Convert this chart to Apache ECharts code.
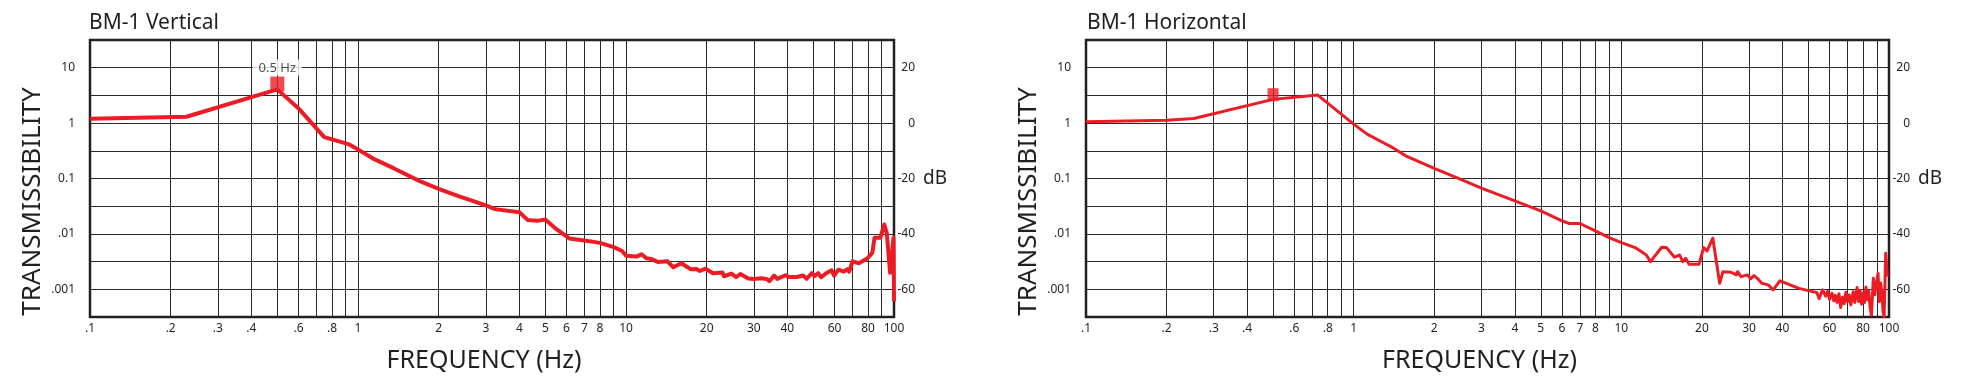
<!DOCTYPE html>
<html><head><meta charset="utf-8">
<script src="https://cdn.jsdelivr.net/npm/echarts@6/dist/echarts.min.js"></script>
<style>html,body{margin:0;padding:0;background:#fff}#c{width:1964px;height:392px}</style>
</head><body><div id="c"></div>
<script>
const chartTitles = ['BM-1 Vertical', 'BM-1 Horizontal'];

const vertFreq = [0.1, 0.229, 0.5, 0.6, 0.748, 0.928, 1.0, 1.155, 1.363, 1.70, 2.0, 2.37, 3.0, 3.25, 4.0, 4.29, 4.66, 5.0, 5.42, 6.14, 7.0, 8.0, 9.0, 9.67,
  10, 10.96, 11.43, 11.92, 12.4, 13.13, 14.27, 15.01, 16.08, 17.44, 18.3, 18.85, 19.8, 21.1, 22.9, 23.2, 24.75, 25.75, 26.7, 28.6, 30, 32, 33.4, 34.3, 35.7, 36.7,
  39.4, 40.5, 43.4, 45.8, 47.2, 49.3, 50.6, 52.1, 53.5, 55.8, 58.5, 59.8, 62.0, 64.9, 66.9, 68.0, 70, 74.0, 79.6, 83.0, 84.6, 88.9, 92.0, 94.0, 96.7, 99.6, 100];
const vertTrans = [1.2, 1.30, 4.06, 1.84, 0.558, 0.412, 0.335, 0.221, 0.152, 0.0895, 0.0651, 0.0481, 0.0327, 0.028, 0.0247, 0.0179, 0.0172, 0.0182, 0.0129, 0.00828, 0.0076, 0.00689, 0.00576, 0.0049,
  0.00405, 0.00389, 0.0043, 0.00363, 0.00353, 0.00312, 0.00321, 0.0025, 0.00295, 0.0023, 0.00233, 0.00214, 0.00236, 0.00195, 0.002, 0.00172, 0.00192, 0.00165, 0.00189, 0.00156, 0.00154, 0.00158, 0.00154, 0.0014, 0.00177, 0.00154,
  0.00179, 0.00167, 0.00167, 0.00177, 0.00154, 0.00195, 0.00174, 0.00195, 0.00165, 0.00195, 0.0022, 0.00177, 0.00226, 0.00208, 0.0023, 0.00208, 0.0032, 0.00295, 0.00363, 0.00454, 0.0085, 0.0085, 0.0148, 0.0103, 0.00198, 0.0085, 0.00061];

const horizFreq = [0.1, 0.2, 0.253, 0.5, 0.734, 1.0, 1.123, 1.26, 1.40, 1.564, 2.0, 2.5, 3.0, 4.0, 5.0, 6.0, 6.39, 7.0, 8.0, 9.0, 10, 11.26, 12.4, 12.84,
  14.16, 14.75, 15.8, 16.5, 16.97, 17.4, 17.9, 19.5, 20.3, 20.9, 21.97, 23.3, 23.97, 25.7, 26.9, 27.2, 28.0, 29.6, 30.4, 31.3, 32.4, 33.5, 35.4, 36.9, 39.1, 46.1, 53.8, 54.8,
  56.5, 58, 59, 60, 61.2, 62.2, 63, 64, 65, 66, 67, 68, 69, 70, 71, 72, 73.5, 74.5, 76, 77, 78, 79, 80, 81, 82, 83, 84, 85, 86, 87.4, 88.5, 89.5, 91, 92, 93, 94, 95, 95.9, 97.2, 98.5];
const horizTrans = [1.06, 1.12, 1.21, 2.68, 3.2, 0.96, 0.633, 0.47, 0.36, 0.257, 0.152, 0.0973, 0.0669, 0.0395, 0.026, 0.0172, 0.0154, 0.0154, 0.0113, 0.0086, 0.00697, 0.00566, 0.00417, 0.00316,
  0.00574, 0.00566, 0.00379, 0.00417, 0.00316, 0.00363, 0.00283, 0.00283, 0.00566, 0.00493, 0.00835, 0.00128, 0.00208, 0.00203, 0.00182, 0.00208, 0.00169, 0.00182, 0.00154, 0.00177, 0.00154, 0.00128, 0.0012, 0.000973, 0.00142, 0.00104, 0.00087, 0.00068,
  0.00098, 0.00075, 0.00092, 0.00066, 0.00085, 0.00062, 0.00078, 0.00058, 0.00083, 0.00047, 0.00072, 0.00055, 0.00088, 0.0006, 0.00079, 0.00052, 0.0009, 0.00058, 0.00108, 0.0006, 0.00095, 0.00054, 0.00085, 0.00058, 0.0011, 0.00065, 0.00092, 0.00048, 0.00034, 0.00158, 0.0008, 0.0012, 0.00195, 0.0006, 0.0013, 0.0009, 0.0004, 0.00032, 0.00448, 0.00169];

const peakFreq = [0.5, 0.5];
const peakTrans = [5.06, 3.25];
const peakText = ['0.5 Hz', ''];

const xGridFreqs = [0.2, 0.3, 0.4, 0.5, 0.6, 0.7, 0.8, 0.9, 1, 2, 3, 4, 5, 6, 7, 8, 9, 10, 20, 30, 40, 50, 60, 70, 80, 90];
const xLabelFreqs = [0.1, 0.2, 0.3, 0.4, 0.6, 0.8, 1, 2, 3, 4, 5, 6, 7, 8, 10, 20, 30, 40, 60, 80, 100];
const xLabelTexts = ['.1', '.2', '.3', '.4', '.6', '.8', '1', '2', '3', '4', '5', '6', '7', '8', '10', '20', '30', '40', '60', '80', '100'];
const yGridValues = [0.001, 0.003162, 0.01, 0.03162, 0.1, 0.3162, 1, 3.162, 10];
const yLabelValues = [0.001, 0.01, 0.1, 1, 10];
const yLabelTexts = ['.001', '.01', '0.1', '1', '10'];
const dbLabelValues = [-60, -40, -20, 0, 20];

const INK = '#231f20';
const RED = '#ed1c24';
const GRIDC = '#2a2a2a';
const FONT = 'Noto Sans';

function lookup(vals, texts) {
  return function (v) {
    for (let i = 0; i < vals.length; i++) {
      if (Math.abs(Math.log10(v) - Math.log10(vals[i])) < 1e-4) return texts[i];
    }
    return '';
  };
}

const grids = [
  { left: 90, right: 1070, top: 40, bottom: 75 },
  { left: 1086, right: 75, top: 40, bottom: 75 }
];

const option = {
  animation: false,
  backgroundColor: '#fff',
  title: chartTitles.map((t, i) => ({
    text: t, left: i === 0 ? 89 : 1087, top: 13, padding: 0,
    textStyle: { fontSize: 21, fontWeight: 'normal', color: INK, fontFamily: FONT }
  })),
  grid: grids.map(g => Object.assign({ show: true, borderColor: INK, borderWidth: 2.5, backgroundColor: 'transparent' }, g)),
  xAxis: grids.map((g, i) => ({
    type: 'log', logBase: 10, gridIndex: i, min: 0.1, max: 100,
    axisLine: { show: false },
    axisTick: { show: false, customValues: xGridFreqs },
    axisLabel: { customValues: xLabelFreqs, formatter: lookup(xLabelFreqs, xLabelTexts), margin: 6, fontSize: 12, color: INK, fontFamily: FONT },
    splitLine: { show: true, lineStyle: { color: GRIDC, width: 1 } },
    name: 'FREQUENCY (Hz)', nameLocation: 'middle', nameGap: 31,
    nameTextStyle: { fontSize: 25, color: INK, fontFamily: FONT, padding: [0, 16, 0, 0] }
  })),
  yAxis: [].concat(...grids.map((g, i) => [
    {
      type: 'log', logBase: 10, gridIndex: i, min: 0.0003162, max: 31.62, position: 'left',
      axisLine: { show: false },
      axisTick: { show: false, customValues: yGridValues },
      axisLabel: { customValues: yLabelValues, formatter: lookup(yLabelValues, yLabelTexts), margin: 15, fontSize: 12, color: INK, fontFamily: FONT },
      splitLine: { show: true, lineStyle: { color: GRIDC, width: 1 } },
      name: 'TRANSMISSIBILITY', nameLocation: 'middle', nameGap: 44, nameRotate: 90,
      nameTextStyle: { fontSize: 26, color: INK, fontFamily: FONT, padding: [0, 46, 0, 0] }
    },
    {
      type: 'value', gridIndex: i, min: -70, max: 30, position: 'right',
      axisLine: { show: false }, axisTick: { show: false }, splitLine: { show: false },
      axisLabel: { customValues: dbLabelValues, align: 'right', margin: 21, fontSize: 12, color: INK, fontFamily: FONT },
      name: 'dB', nameLocation: 'middle', nameRotate: 0, nameGap: 29,
      nameTextStyle: { fontSize: 19, color: INK, fontFamily: FONT, align: 'left', verticalAlign: 'middle' }
    }
  ])),
  series: [
    {
      type: 'line', xAxisIndex: 0, yAxisIndex: 0, showSymbol: false, symbol: 'none',
      lineStyle: { color: RED, width: 4, join: 'round' },
      data: vertFreq.map((f, k) => [f, vertTrans[k]]), z: 3
    },
    {
      type: 'line', xAxisIndex: 1, yAxisIndex: 2, showSymbol: false, symbol: 'none',
      lineStyle: { color: RED, width: 3, join: 'round' },
      data: horizFreq.map((f, k) => [f, horizTrans[k]]), z: 3
    },
    {
      type: 'scatter', xAxisIndex: 0, yAxisIndex: 0, symbol: 'rect', symbolSize: [14, 15],
      itemStyle: { color: RED }, z: 10, zlevel: 0,
      label: { show: true, position: 'top', distance: 1, formatter: peakText[0], backgroundColor: '#ffffff', padding: [2, 6, 1, 6], fontSize: 13, color: INK, fontFamily: FONT },
      data: [[peakFreq[0], peakTrans[0]]]
    },
    {
      type: 'scatter', xAxisIndex: 1, yAxisIndex: 2, symbol: 'rect', symbolSize: [11, 13],
      itemStyle: { color: RED }, z: 10,
      data: [[peakFreq[1], peakTrans[1]]]
    }
  ]
};

const chart = echarts.init(document.getElementById('c'), null, { renderer: 'canvas' });
chart.setOption(option);
</script>
</body></html>
